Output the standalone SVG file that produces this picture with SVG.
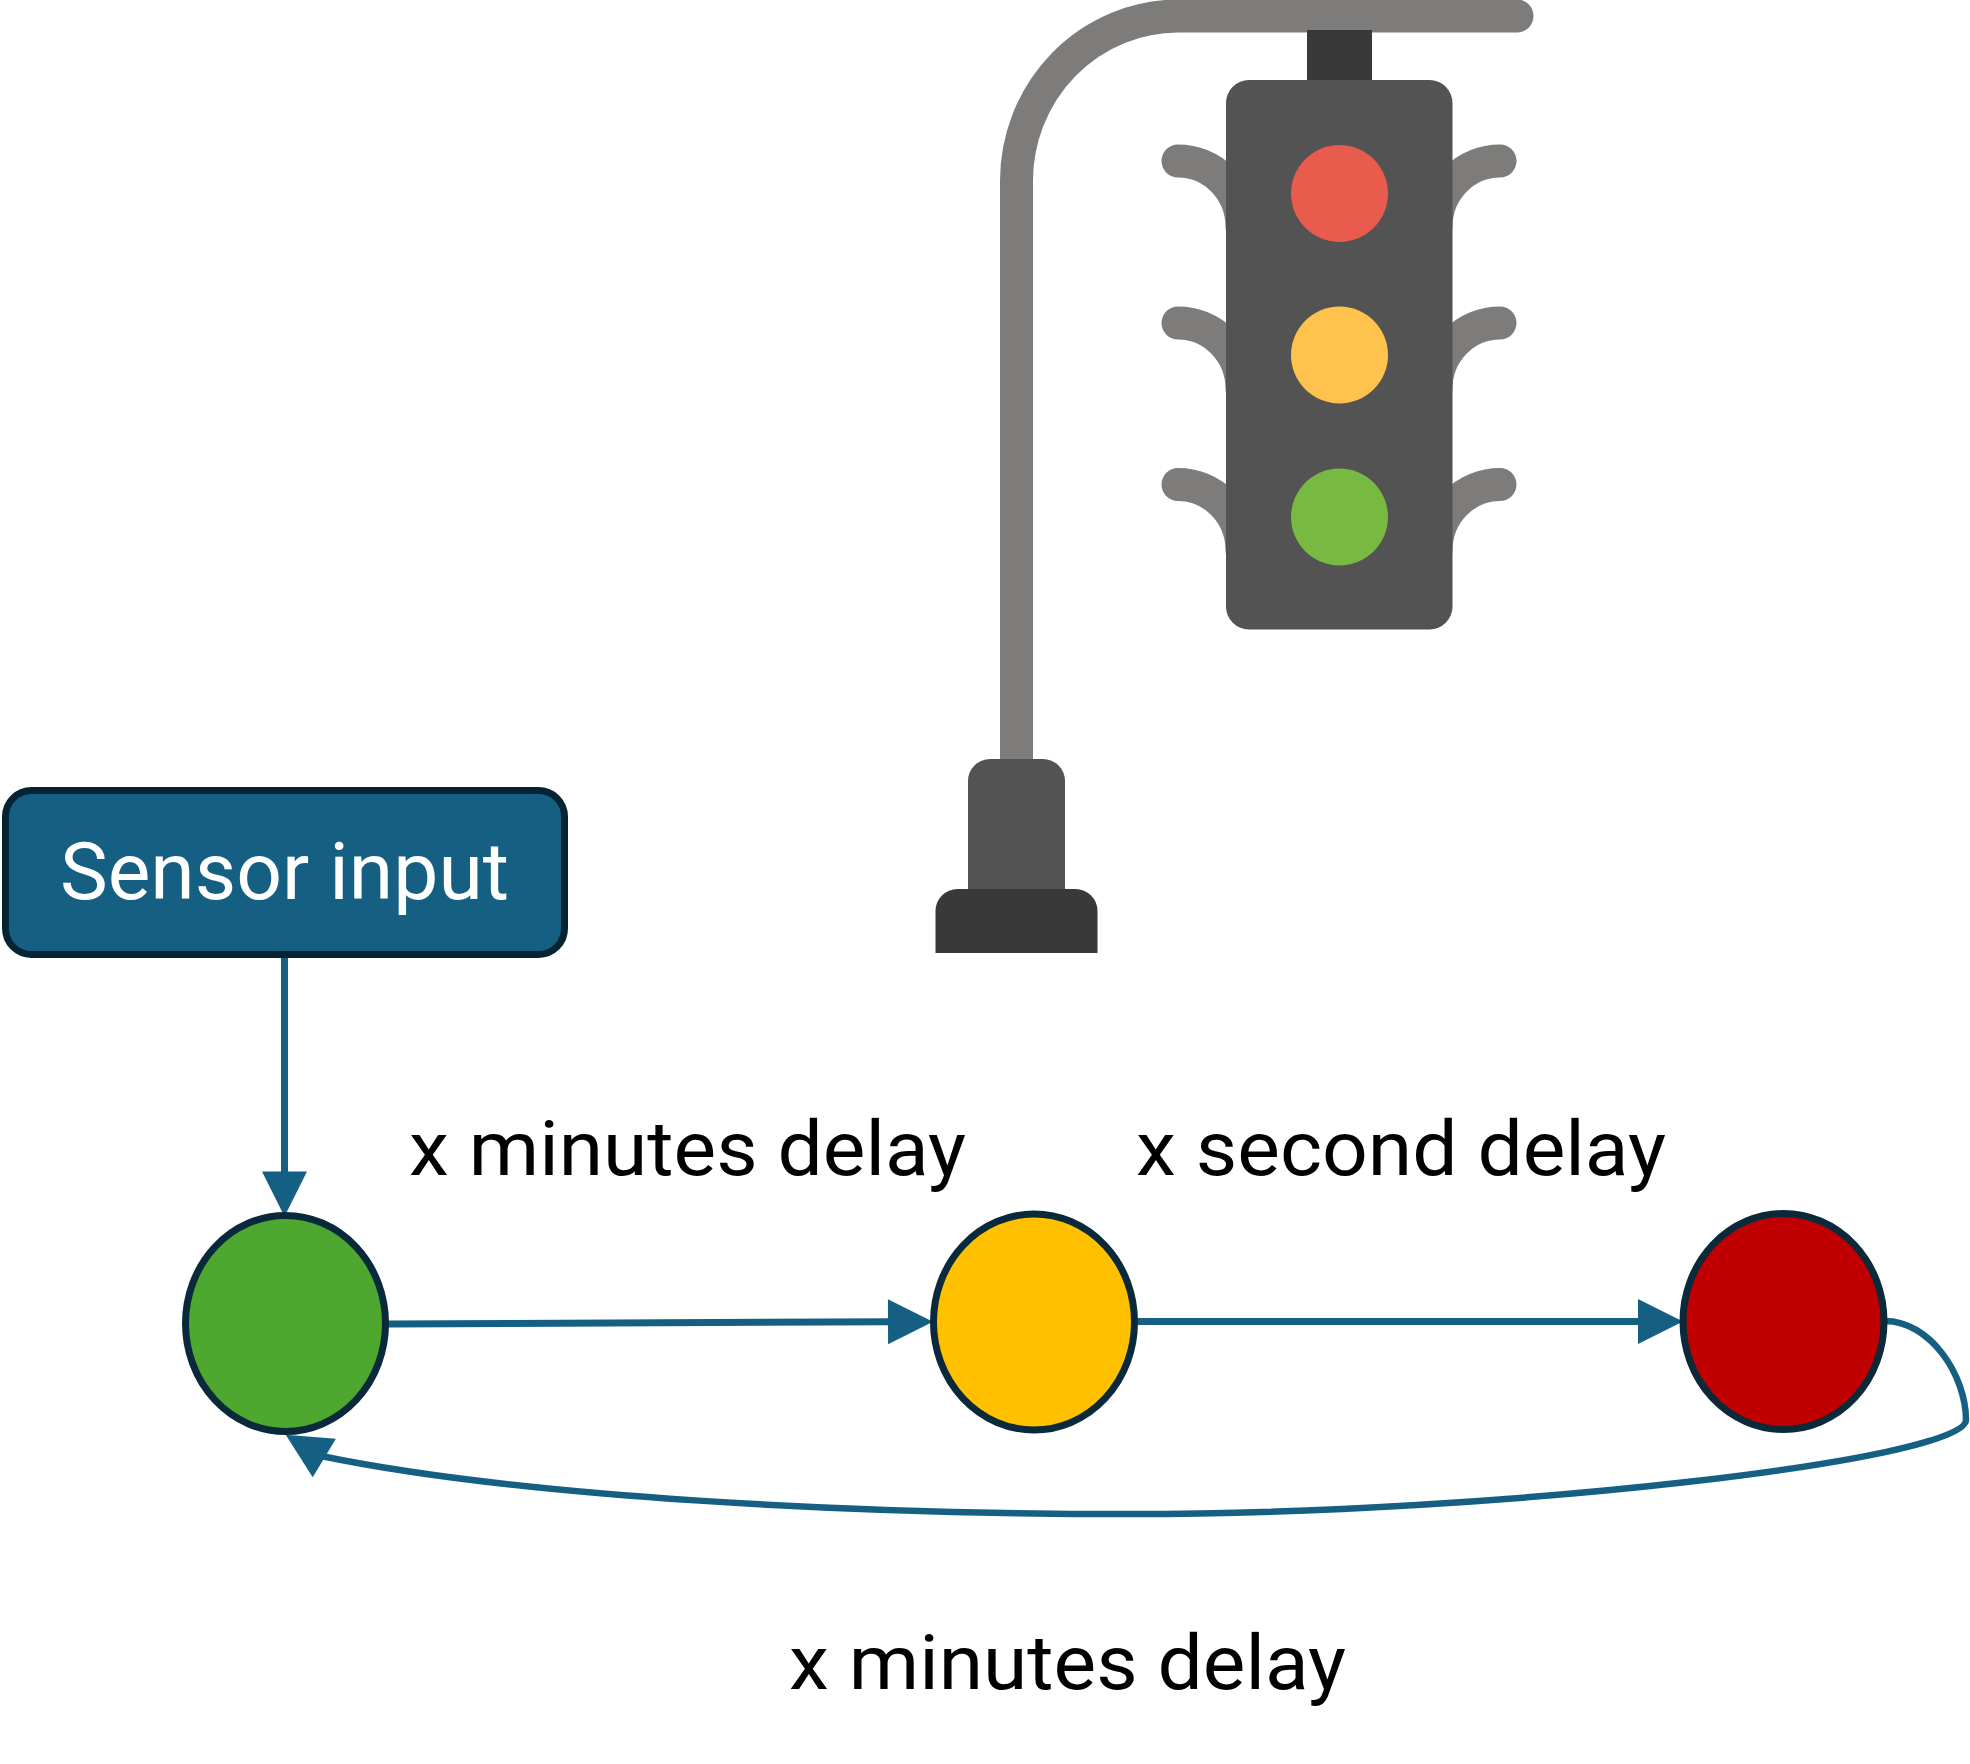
<svg xmlns="http://www.w3.org/2000/svg" width="1970" height="1764" viewBox="0 0 1970 1764">
<style>
.arm{fill:none;stroke:#7d7c7a;stroke-width:33;stroke-linecap:round}
.body{fill:#535353}
.dark{fill:#393939}
.state{stroke:#0a2a3c;stroke-width:7}
.conn{fill:none;stroke:#156082;marker-end:url(#head)}
.label{font-family:"Roboto","Liberation Sans",sans-serif;font-size:76px;fill:#000}
</style>
<defs>
<marker id="head" markerUnits="userSpaceOnUse" markerWidth="46" markerHeight="46" refX="5" refY="22.5" orient="auto" overflow="visible"><path d="M0 0L45 22.5L0 45z" fill="#156082"/></marker>
</defs>
<rect width="1970" height="1764" fill="#fff"/>
<g id="traffic-light">
<path class="arm" d="M1016.5 780V181A162 165 0 0 1 1178 16H1517"/>
<rect class="dark" x="1307" y="30" width="65" height="52"/>
<path class="arm" d="M1178 161A64 66 0 0 1 1242 227"/>
<path class="arm" d="M1178 323A64 66 0 0 1 1242 389"/>
<path class="arm" d="M1178 484.500A64 66 0 0 1 1242 550.500"/>
<path class="arm" d="M1500 161A64 66 0 0 0 1436 227"/>
<path class="arm" d="M1500 323A64 66 0 0 0 1436 389"/>
<path class="arm" d="M1500 484.500A64 66 0 0 0 1436 550.500"/>
<rect class="body" x="1226" y="80" width="226.500" height="549.500" rx="23"/>
<circle cx="1339.500" cy="193.500" r="48.500" fill="#e95b4d"/>
<circle cx="1339.500" cy="355" r="48.500" fill="#ffc34d"/>
<circle cx="1339.500" cy="517" r="48.500" fill="#77b941"/>
<path class="body" d="M968 889V781A22 22 0 0 1 990 759H1043A22 22 0 0 1 1065 781V889z"/>
<path class="dark" d="M935.500 953V911A22 22 0 0 1 957.500 889H1075.500A22 22 0 0 1 1097.500 911V953z"/>
</g>
<g id="connectors">
<path class="conn" stroke-width="7" d="M284.500 955V1176.500"/>
<path class="conn" stroke-width="7" d="M388 1324L893 1321.800"/>
<path class="conn" stroke-width="7" d="M1136 1321.500H1643"/>
<path class="conn" stroke-width="6.500" d="M1885 1321C1930 1321 1966 1375 1966 1420C1966 1460 1500 1514 1130 1514C850 1514 520 1497 321 1456L320 1455.400"/>
</g>
<g id="sensor-input">
<rect x="5.500" y="790.500" width="559" height="164" rx="26" fill="#156082" stroke="#042433" stroke-width="7"/>
<text x="60" y="898.500" font-family="Roboto,'Liberation Sans',sans-serif" font-size="80" fill="#fff" textLength="449" lengthAdjust="spacingAndGlyphs">Sensor input</text>
</g>
<g id="state-green"><ellipse class="state" cx="285.500" cy="1323.500" rx="100" ry="108" fill="#4ea72e"/></g>
<g id="state-yellow"><ellipse class="state" cx="1034" cy="1322" rx="100.500" ry="108" fill="#ffc000"/></g>
<g id="state-red"><ellipse class="state" cx="1783.500" cy="1321.500" rx="100.500" ry="108" fill="#c00000"/></g>
<text class="label" x="409" y="1175" textLength="557" lengthAdjust="spacingAndGlyphs">x minutes delay</text>
<text class="label" x="1136" y="1175" textLength="530" lengthAdjust="spacingAndGlyphs">x second delay</text>
<text class="label" x="789" y="1689" textLength="557" lengthAdjust="spacingAndGlyphs">x minutes delay</text>
</svg>
